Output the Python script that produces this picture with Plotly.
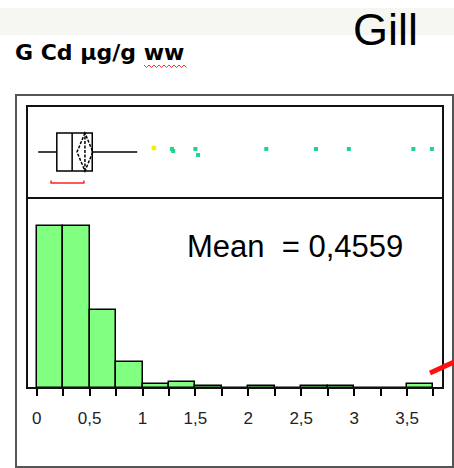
import plotly.graph_objects as go

W, H = 454, 468

# histogram of G Cd (ug/g ww), bins of 0.25
bin_left = [0, 0.25, 0.5, 0.75, 1.0, 1.25, 1.5, 1.75, 2.0, 2.25, 2.5, 2.75, 3.0, 3.25, 3.5]
counts = [81, 81, 39, 13, 2, 3, 1, 0, 1, 0, 1, 1, 0, 0, 2]
bin_width = 0.25

# box plot summary
q1, median, q3 = 0.19, 0.335, 0.525
whisker_lo, whisker_hi = 0.014, 0.95
mean_val = 0.4559
mean_ci_half = 0.075
shortest_half = [0.136, 0.446]

# outliers above the upper whisker
out_yellow_x = [1.107]
out_yellow_y = [0.543]
out_green_x = [1.278, 1.29, 1.50, 1.525, 2.17, 2.64, 2.95, 3.56, 3.735]
out_green_y = [0.533, 0.511, 0.533, 0.467, 0.533, 0.533, 0.533, 0.533, 0.533]

tick_vals = [0, 0.25, 0.5, 0.75, 1, 1.25, 1.5, 1.75, 2, 2.25, 2.5, 2.75, 3, 3.25, 3.5, 3.75]
tick_text = ["0", "", "0,5", "", "1", "", "1,5", "", "2", "", "2,5", "", "3", "", "3,5", ""]


def px(x, y):
    return x / W, 1 - y / H


fig = go.Figure()

fig.add_trace(go.Bar(
    x=[b + bin_width / 2 for b in bin_left], y=counts, width=bin_width,
    marker=dict(color="#80ff80", line=dict(color="black", width=1.5)),
    xaxis="x", yaxis="y", showlegend=False, hoverinfo="skip"))

fig.add_trace(go.Box(
    q1=[q1], median=[median], q3=[q3], lowerfence=[whisker_lo], upperfence=[whisker_hi],
    mean=[mean_val], sd=[mean_ci_half], y=[0.5], orientation="h", boxmean="sd",
    width=0.413, whiskerwidth=0, fillcolor="white", boxpoints=False,
    line=dict(color="black", width=1.5), xaxis="x2", yaxis="y2", showlegend=False))

# shortest half bracket
fig.add_trace(go.Scatter(
    x=[shortest_half[0], shortest_half[0], shortest_half[1], shortest_half[1]],
    y=[0.19, 0.163, 0.163, 0.19], mode="lines",
    line=dict(color="#ff2020", width=1.5), xaxis="x2", yaxis="y2", showlegend=False))

fig.add_trace(go.Scatter(
    x=out_yellow_x, y=out_yellow_y, mode="markers",
    marker=dict(color="#f0f000", size=5, symbol="circle"),
    xaxis="x2", yaxis="y2", showlegend=False))
fig.add_trace(go.Scatter(
    x=out_green_x, y=out_green_y, mode="markers",
    marker=dict(color="#1ed38a", size=4, symbol="square"),
    xaxis="x2", yaxis="y2", showlegend=False))

x_dom = [27 / W, 443 / W]
x_rng = [-0.0917, 3.840]
fig.update_layout(
    width=W, height=H, margin=dict(l=0, r=0, t=0, b=0),
    paper_bgcolor="white", plot_bgcolor="rgba(0,0,0,0)",
    bargap=0,
    xaxis=dict(domain=x_dom, range=x_rng, tickvals=tick_vals, ticktext=tick_text,
               ticks="outside", ticklen=7, tickwidth=1.5, tickcolor="black",
               ticklabelstandoff=8,
               showgrid=False, zeroline=False, showline=False,
               tickfont=dict(family="Liberation Sans, Arial", size=17, color="#222"),
               anchor="y"),
    yaxis=dict(domain=[(H - 388) / H, (H - 198) / H], range=[0, 95], visible=False),
    xaxis2=dict(domain=x_dom, range=x_rng, visible=False, anchor="y2"),
    yaxis2=dict(domain=[(H - 198) / H, (H - 106) / H], range=[0, 1], visible=False),
)

shapes = []
# light banner at the top
x0, y0 = px(0, 8)
x1, y1 = px(W, 35)
shapes.append(dict(type="rect", xref="paper", yref="paper", x0=x0, y0=y0, x1=x1, y1=y1,
                   fillcolor="#f6f6f3", line=dict(width=0), layer="below"))
# outer frame
x0, y0 = px(16, 95)
x1, y1 = px(453, 467)
shapes.append(dict(type="rect", xref="paper", yref="paper", x0=x0, y0=y0, x1=x1, y1=y1,
                   line=dict(color="#555", width=2)))
# inner frame
x0, y0 = px(27, 106)
x1, y1 = px(443, 388)
shapes.append(dict(type="rect", xref="paper", yref="paper", x0=x0, y0=y0, x1=x1, y1=y1,
                   line=dict(color="#111", width=2)))
# divider between box panel and histogram
x0, y0 = px(27, 198)
x1, y1 = px(443, 198)
shapes.append(dict(type="line", xref="paper", yref="paper", x0=x0, y0=y0, x1=x1, y1=y1,
                   line=dict(color="#111", width=2)))
# red slash on the right
x0, y0 = px(430, 373)
x1, y1 = px(454, 362)
shapes.append(dict(type="line", xref="paper", yref="paper", x0=x0, y0=y0, x1=x1, y1=y1,
                   line=dict(color="#ff1010", width=5)))
# spell-check squiggle under "ww"
pts = []
xs = 144
i = 0
while xs <= 188:
    yy = 65 if i % 2 == 0 else 67.5
    px_, py_ = px(xs, yy)
    pts.append(f"{px_:.4f},{py_:.4f}")
    xs += 2.5
    i += 1
shapes.append(dict(type="path", xref="paper", yref="paper", path="M" + " L".join(pts),
                   line=dict(color="#ff3030", width=1)))
fig.update_layout(shapes=shapes)

ax, ay = px(13, 52)
fig.add_annotation(x=ax, y=ay, xref="paper", yref="paper", xanchor="left", yanchor="middle",
                   text="<b>G Cd µg/g ww</b>", showarrow=False,
                   font=dict(family="DejaVu Sans", size=22, color="black"))
ax, ay = px(351, 29)
fig.add_annotation(x=ax, y=ay, xref="paper", yref="paper", xanchor="left", yanchor="middle",
                   text="Gill", showarrow=False,
                   font=dict(family="Liberation Sans, Arial", size=45, color="black"))
ax, ay = px(185, 246)
fig.add_annotation(x=ax, y=ay, xref="paper", yref="paper", xanchor="left", yanchor="middle",
                   text="Mean  = 0,4559", showarrow=False,
                   font=dict(family="Liberation Sans, Arial", size=31, color="black"))

# page has a default body margin; remove it so the figure fills the window
fig.write_html("out.html", config={"displayModeBar": False},
               post_script="document.body.style.margin='0';")
